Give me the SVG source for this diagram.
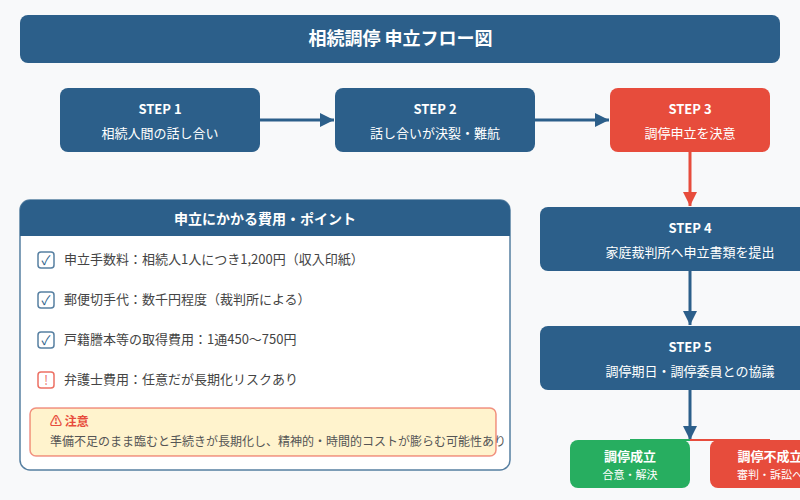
<svg xmlns="http://www.w3.org/2000/svg" width="800" height="500" viewBox="0 0 800 500">
<defs>
<marker id="ab" markerUnits="userSpaceOnUse" markerWidth="14" markerHeight="14" refX="14" refY="7" orient="auto"><path d="M0,0 L14,7 L0,14 Z" fill="#2c5f8a"/></marker>
<marker id="ar" markerUnits="userSpaceOnUse" markerWidth="14" markerHeight="14" refX="14" refY="7" orient="auto"><path d="M0,0 L14,7 L0,14 Z" fill="#e74c3c"/></marker>
</defs>
<style>
text{font-family:"Noto Sans CJK JP","Noto Sans",sans-serif}
.c{text-anchor:middle;fill:#fff}
.s{font-size:13px;font-weight:700}
.d{font-size:13px}
.l{font-size:13px;fill:#444}
.n{fill:#2c5f8a}
.cb{fill:#fff;stroke:#2c5f8a;stroke-width:1.5;stroke-opacity:.8}
.cw{fill:#fff;stroke:#e74c3c;stroke-width:1.5;stroke-opacity:.8}
.line{fill:none;stroke-width:3}
</style>
<rect width="800" height="500" fill="#f8f9fa"/>
<g id="title"><rect class="n" x="20" y="15" width="760" height="48" rx="8"/><text class="c" x="400.5" y="45" font-size="18" font-weight="700">相続調停 申立フロー図</text></g>
<g id="connectors">
<line class="line" x1="260" y1="120" x2="334" y2="120" stroke="#2c5f8a" marker-end="url(#ab)"/>
<line class="line" x1="535" y1="120" x2="609" y2="120" stroke="#2c5f8a" marker-end="url(#ab)"/>
<line class="line" x1="690" y1="152" x2="690" y2="206" stroke="#e74c3c" marker-end="url(#ar)"/>
<line class="line" x1="690" y1="271" x2="690" y2="325" stroke="#2c5f8a" marker-end="url(#ab)"/>
<line class="line" x1="690" y1="390" x2="690" y2="440" stroke="#2c5f8a" marker-end="url(#ab)"/>
<line x1="690" y1="440" x2="630" y2="440" stroke="#27ae60" stroke-width="2"/>
<line x1="690" y1="440" x2="770" y2="440" stroke="#e74c3c" stroke-width="2"/>
</g>
<g id="step1"><rect class="n" x="60" y="88" width="200" height="64" rx="8"/><text class="c s" x="160" y="114">STEP 1</text><text class="c d" x="160" y="138">相続人間の話し合い</text></g>
<g id="step2"><rect class="n" x="335" y="88" width="200" height="64" rx="8"/><text class="c s" x="435" y="114">STEP 2</text><text class="c d" x="435" y="138">話し合いが決裂・難航</text></g>
<g id="step3"><rect fill="#e74c3c" x="610" y="88" width="160" height="64" rx="8"/><text class="c s" x="690" y="114">STEP 3</text><text class="c d" x="690" y="138">調停申立を決意</text></g>
<g id="step4"><rect class="n" x="540" y="207" width="300" height="64" rx="8"/><text class="c s" x="690" y="233">STEP 4</text><text class="c d" x="690" y="257">家庭裁判所へ申立書類を提出</text></g>
<g id="step5"><rect class="n" x="540" y="326" width="300" height="64" rx="8"/><text class="c s" x="690" y="352">STEP 5</text><text class="c d" x="690" y="376">調停期日・調停委員との協議</text></g>
<g id="success"><rect fill="#27ae60" x="570" y="440" width="120" height="48" rx="8"/><text class="c s" x="630" y="461">調停成立</text><text class="c" font-size="11" x="630" y="479">合意・解決</text></g>
<g id="failure"><rect fill="#e74c3c" x="710" y="440" width="120" height="48" rx="8"/><text class="c s" x="770" y="461">調停不成立</text><text class="c" font-size="11" x="770" y="479">審判・訴訟へ</text></g>
<g id="panel">
<rect x="20" y="200" width="490" height="270" rx="10" fill="#fff" stroke="#2c5f8a" stroke-width="1.5" stroke-opacity=".8"/>
<path class="n" d="M20,236 V210 A10,10 0 0 1 30,200 H500 A10,10 0 0 1 510,210 V236 Z"/>
<text class="c" x="265" y="224" font-size="14" font-weight="700">申立にかかる費用・ポイント</text>
<g id="item1"><rect class="cb" x="38" y="252" width="16" height="16" rx="3"/><text x="46" y="265" text-anchor="middle" font-size="13" fill="#2c5f8a">✓</text><text class="l" x="64" y="264">申立手数料：相続人1人につき1,200円（収入印紙）</text></g>
<g id="item2"><rect class="cb" x="38" y="292" width="16" height="16" rx="3"/><text x="46" y="305" text-anchor="middle" font-size="13" fill="#2c5f8a">✓</text><text class="l" x="64" y="304">郵便切手代：数千円程度（裁判所による）</text></g>
<g id="item3"><rect class="cb" x="38" y="332" width="16" height="16" rx="3"/><text x="46" y="345" text-anchor="middle" font-size="13" fill="#2c5f8a">✓</text><text class="l" x="64" y="344">戸籍謄本等の取得費用：1通450〜750円</text></g>
<g id="item4"><rect class="cw" x="38" y="372" width="16" height="16" rx="3"/><text x="46" y="385" text-anchor="middle" font-size="13" fill="#e74c3c" fill-opacity=".8">!</text><text class="l" x="64" y="384">弁護士費用：任意だが長期化リスクあり</text></g>
<g id="note"><rect x="30" y="408" width="466" height="48" rx="6" fill="#fff3cd" stroke="#e74c3c" stroke-width="1.5" stroke-opacity=".6"/>
<text x="50" y="426" font-size="12" font-weight="700" fill="#e74c3c">⚠ 注意</text>
<text x="50" y="446" font-size="12" fill="#555">準備不足のまま臨むと手続きが長期化し、精神的・時間的コストが膨らむ可能性あり</text></g>
</g>
</svg>
